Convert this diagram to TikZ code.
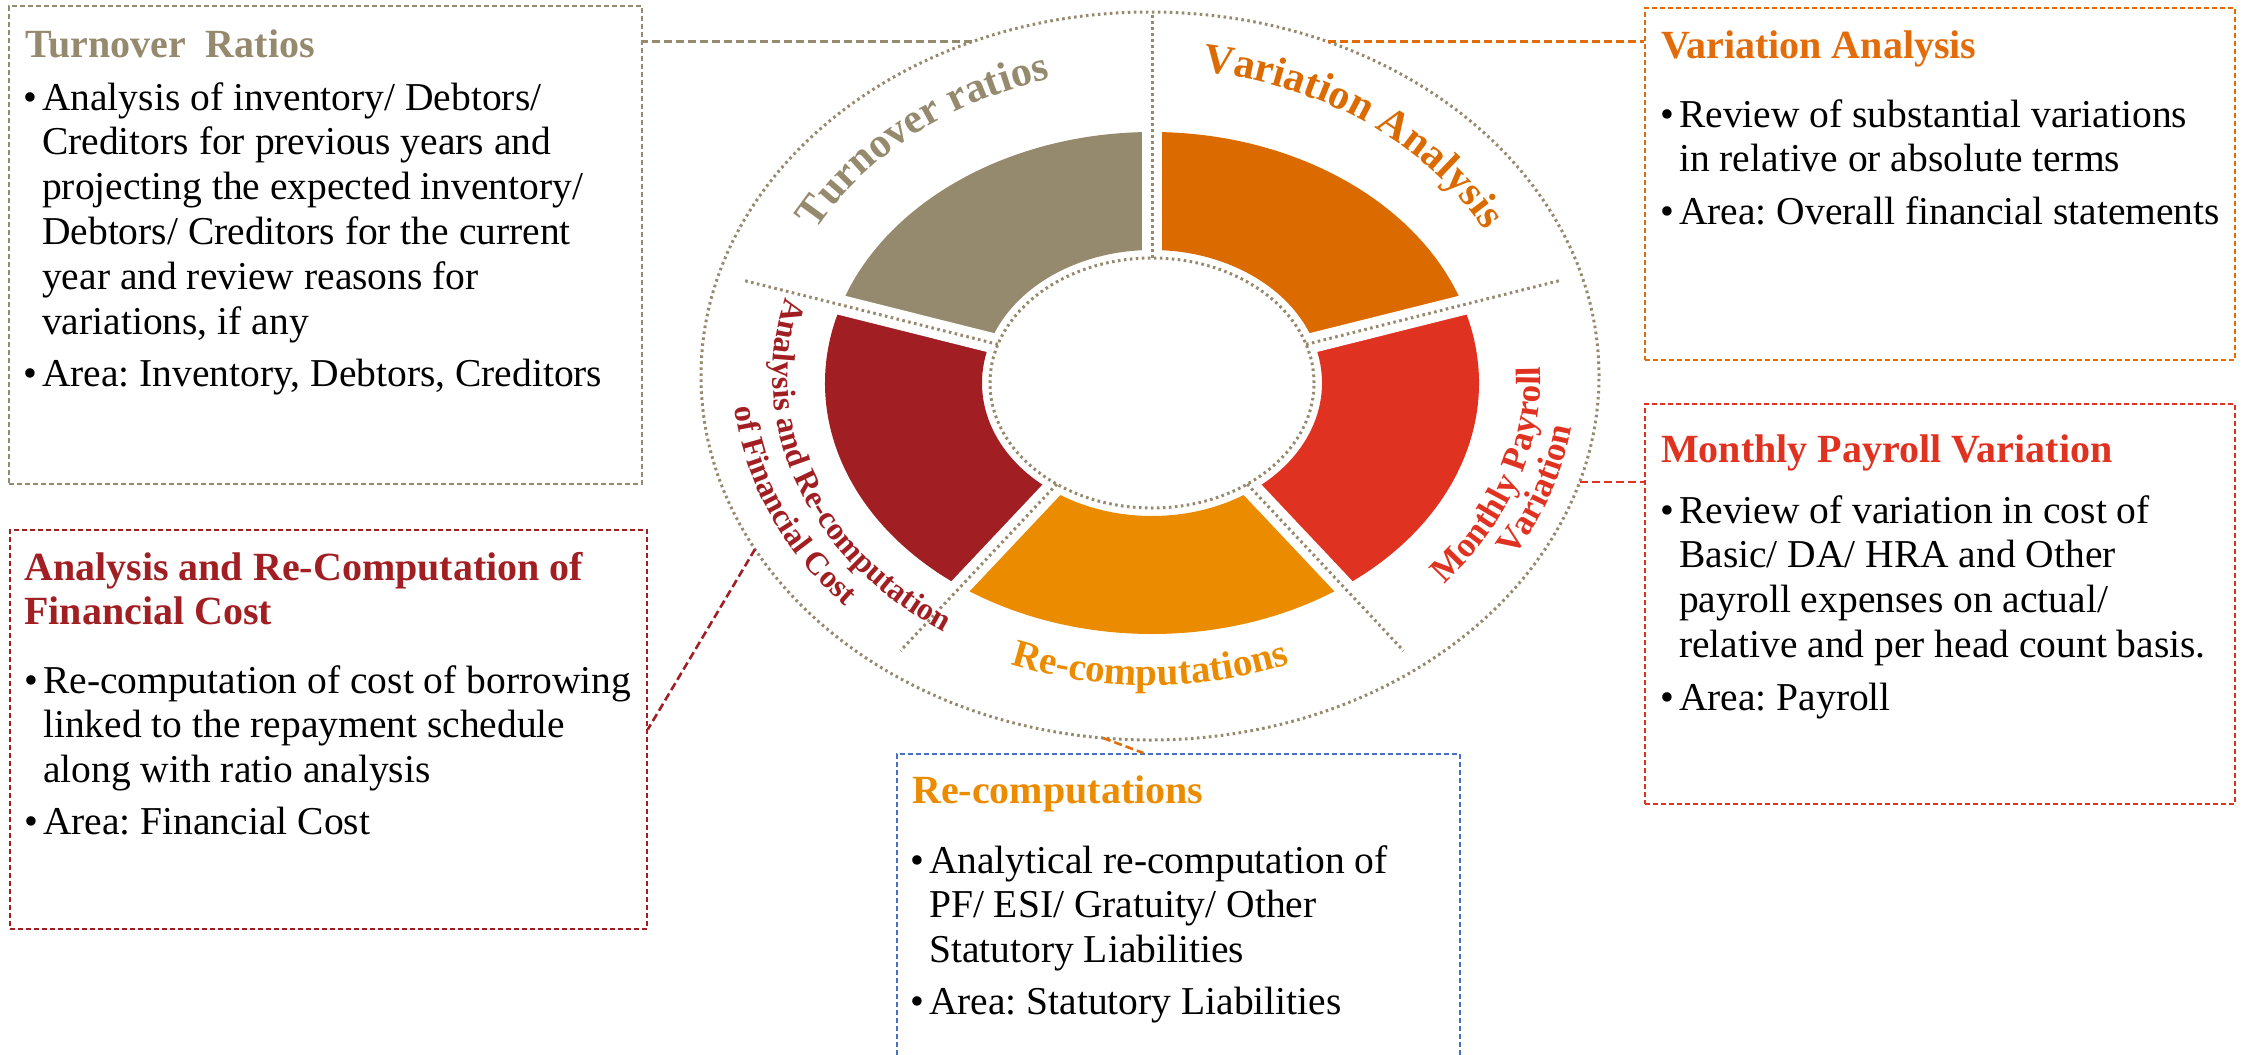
\documentclass[tikz,border=0pt]{standalone}
\usepackage{fontspec}
\setmainfont{Liberation Serif}
\usetikzlibrary{calc,decorations.text}
\definecolor{tover}{RGB}{150,138,110}
\definecolor{varia}{RGB}{219,106,0}
\definecolor{payr}{RGB}{224,50,32}
\definecolor{recomp}{RGB}{235,140,0}
\definecolor{fin}{RGB}{161,31,34}
\definecolor{boxblue}{RGB}{68,114,196}
\definecolor{varitxt}{RGB}{226,108,10}
\newcommand{\mybul}{\makebox[19pt][l]{\textbullet}}
\newcommand{\myind}{\hspace*{19pt}}
\newcommand{\bodysize}{\fontsize{39.5}{44.8}\selectfont}
\newcommand{\titlesize}{\fontsize{40}{44}\selectfont\bfseries}
\frenchspacing
\begin{document}
\begin{tikzpicture}[x=1pt,y=1pt,
  box/.style={draw, line width=1.8pt, dash pattern=on 5pt off 3pt, inner sep=0pt, anchor=north west},
  conn/.style={line width=2.6pt, dash pattern=on 8pt off 4pt},
  dotl/.style={draw=tover, line width=3pt, dash pattern=on 2.6pt off 3.4pt},
  ttl/.style={anchor=base west, inner sep=0pt, font=\titlesize},
  body/.style={anchor=base west, inner sep=0pt, font=\bodysize}]
\useasboundingbox (0,0) rectangle (2244,-1055);
\clip (0,0) rectangle (2244,-1055);
\coordinate (C) at (1152,-383);
\coordinate (O) at (1150,-376);

% coloured ring segments
\foreach \a/\b/\c in {90/162/tover, 18/90/varia, -54/18/payr, -126/-54/recomp, -198/-126/fin}
  \fill[\c] ($(C)+(\a:327 and 251)$) arc[start angle=\a, end angle=\b, x radius=327, y radius=251]
    -- ($(C)+(\b:170 and 133)$) arc[start angle=\b, end angle=\a, x radius=170, y radius=133] -- cycle;
% gaps
\foreach \a in {90,18,-54,-126,162}
  \draw[white, line width=20pt] ($(C)+(\a:140 and 108)$) -- ($(C)+(\a:345 and 266)$);
% dotted dividers and ellipses
\foreach \a in {18,-54,-126,162}
  \draw[dotl] ($(C)+(\a:162 and 125)$) -- ($(C)+(\a:428 and 331)$);
\draw[dotl] ($(C)+(90:162 and 125)$) -- ($(C)+(90:0 and 369)$);
\draw[dotl] (C) ellipse [x radius=162, y radius=125];
\draw[dotl] (O) ellipse [x radius=449, y radius=364];

% ring labels
\path[decorate, decoration={text along path, text align=center, text color=tover,
  text={|\fontsize{42}{42}\selectfont\bfseries|Turnover ratios}}]
  ($(O)+(181:379.4 and 307.6)$) arc[start angle=181, end angle=81, x radius=379.4, y radius=307.6];
\path[decorate, decoration={text along path, text align=center, text color=varia,
  text={|\fontsize{42}{42}\selectfont\bfseries|Variation Analysis}}]
  ($(O)+(103:379.4 and 307.6)$) arc[start angle=103, end angle=3, x radius=379.4, y radius=307.6];
\path[decorate, decoration={text along path, text align=center, text color=recomp,
  text={|\fontsize{39}{39}\selectfont\bfseries|Re-computations}}]
  ($(O)+(220:381.6 and 309.4)$) arc[start angle=220, end angle=320, x radius=381.6, y radius=309.4];
\path[decorate, decoration={text along path, text align=center, text color=payr,
  text={|\fontsize{35}{35}\selectfont\bfseries|Monthly Payroll}}]
  ($(O)+(-68:390.6 and 316.7)$) arc[start angle=-68, end angle=32, x radius=390.6, y radius=316.7];
\path[decorate, decoration={text along path, text align=center, text color=payr,
  text={|\fontsize{35}{35}\selectfont\bfseries|Variation}}]
  ($(O)+(-68:426.6 and 345.8)$) arc[start angle=-68, end angle=32, x radius=426.6, y radius=345.8];
\path[decorate, decoration={text along path, text align=center, text color=fin,
  text={|\fontsize{32}{32}\selectfont\bfseries|Analysis and Re-computation}}]
  ($(O)+(150:377.2 and 305.8)$) arc[start angle=150, end angle=250, x radius=377.2, y radius=305.8];
\path[decorate, decoration={text along path, text align=center, text color=fin,
  text={|\fontsize{32}{32}\selectfont\bfseries|of Financial Cost}}]
  ($(O)+(152:416.7 and 337.8)$) arc[start angle=152, end angle=252, x radius=416.7, y radius=337.8];

% boxes
\node[box, draw=tover, minimum width=633pt, minimum height=478pt] (tbox) at (8,-5) {};
\node[box, draw=varitxt, minimum width=590pt, minimum height=352pt] (vbox) at (1644,-7) {};
\node[box, draw=payr, minimum width=590pt, minimum height=400pt] (pbox) at (1644,-403) {};
\node[box, draw=fin, minimum width=637pt, minimum height=399pt] (fbox) at (9,-529) {};
\node[box, draw=boxblue, minimum width=563pt, minimum height=330pt] (rbox) at (896,-753) {};

% box texts
\node[ttl, text=tover] (ttitle) at (25,-57) {Turnover~~Ratios};
\node[body] (ttext) at (23,-110) {\begin{tabular}[t]{@{}l@{}}
\mybul Analysis of inventory/ Debtors/\\
\myind Creditors for previous years and\\
\myind projecting the expected inventory/\\
\myind Debtors/ Creditors for the current\\
\myind year and review reasons for\\
\myind variations, if any\\[8pt]
\mybul Area: Inventory, Debtors, Creditors\end{tabular}};

\node[ttl, text=varitxt] (vtitle) at (1661,-58) {Variation Analysis};
\node[body] (vtext) at (1660,-127) {\begin{tabular}[t]{@{}l@{}}
\mybul Review of substantial variations\\
\myind in relative or absolute terms\\[8pt]
\mybul Area: Overall financial statements\end{tabular}};

\node[ttl, text=payr] (ptitle) at (1661,-462) {Monthly Payroll Variation};
\node[body] (ptext) at (1660,-523) {\begin{tabular}[t]{@{}l@{}}
\mybul Review of variation in cost of\\
\myind Basic/ DA/ HRA and Other\\
\myind payroll expenses on actual/\\
\myind relative and per head count basis.\\[8pt]
\mybul Area: Payroll\end{tabular}};

\node[ttl, text=fin] (ftitle) at (24,-580) {\begin{tabular}[t]{@{}l@{}}
Analysis and Re-Computation of\\ Financial Cost\end{tabular}};
\node[body] (ftext) at (24,-693) {\begin{tabular}[t]{@{}l@{}}
\mybul Re-computation of cost of borrowing\\
\myind linked to the repayment schedule\\
\myind along with ratio analysis\\[7pt]
\mybul Area: Financial Cost\end{tabular}};

\node[ttl, text=recomp] (rtitle) at (912,-803) {Re-computations};
\node[body] (rtext) at (910,-873) {\begin{tabular}[t]{@{}l@{}}
\mybul Analytical re-computation of\\
\myind PF/ ESI/ Gratuity/ Other\\
\myind Statutory Liabilities\\[7pt]
\mybul Area: Statutory Liabilities\end{tabular}};

% connectors
\coordinate (tA) at ($(O)+(113.3:449 and 364)$);
\draw[conn, tover] (tA) -- (tA -| tbox.east);
\coordinate (vA) at ($(O)+(66.7:449 and 364)$);
\draw[conn, varitxt] (vA) -- (vA -| vbox.west);
\coordinate (pA) at ($(O)+(-16.9:449 and 364)$);
\draw[conn, payr] (pA) -- (pA -| pbox.west);
\coordinate (fA) at ($(O)+(208.4:449 and 364)$);
\draw[conn, fin] (fA) -- (fbox.east);
\coordinate (rA) at ($(O)+(264:449 and 364)$);
\draw[conn, varitxt] (rA) -- ([xshift=-35pt]rbox.north);
\end{tikzpicture}
\end{document}
